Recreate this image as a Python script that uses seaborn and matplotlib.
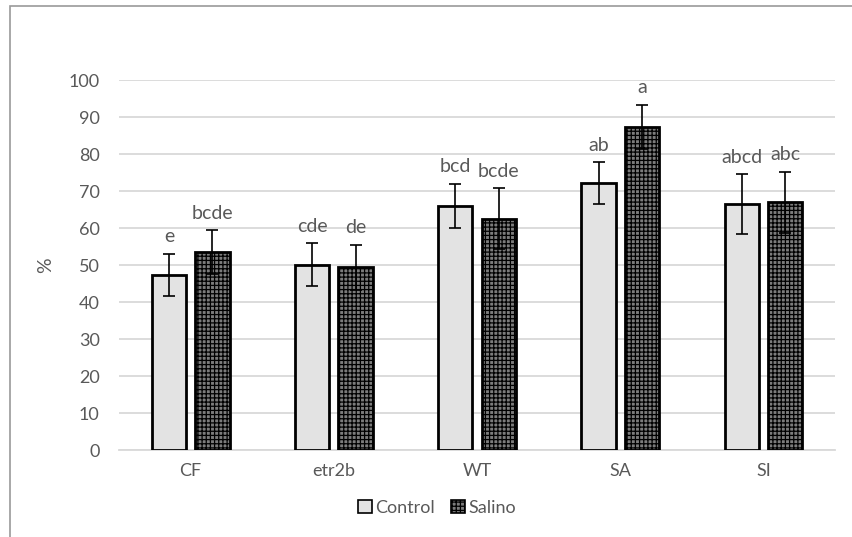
import numpy as np
import pandas as pd
import matplotlib
matplotlib.use("Agg")
import matplotlib.pyplot as plt
import seaborn as sns
from matplotlib.patches import Patch, Rectangle

categories = ["CF", "etr2b", "WT", "SA", "SI"]
treatments = ["Control", "Salino"]
control_vals = [47.3, 50.1, 66.0, 72.1, 66.5]
salino_vals = [53.5, 49.4, 62.5, 87.3, 66.9]
control_err = [5.8, 5.8, 6.0, 5.7, 8.1]
salino_err = [5.9, 6.1, 8.2, 6.0, 8.3]
control_letters = ["e", "cde", "bcd", "ab", "abcd"]
salino_letters = ["bcde", "de", "bcde", "a", "abc"]
y_ticks = [0, 10, 20, 30, 40, 50, 60, 70, 80, 90, 100]

df = pd.DataFrame({
    "Genotype": categories * 2,
    "Treatment": ["Control"] * 5 + ["Salino"] * 5,
    "Value": control_vals + salino_vals,
})

sns.set_theme(style="white")
plt.rcParams["font.family"] = ["Lato", "DejaVu Sans"]
plt.rcParams["hatch.linewidth"] = 0.9
text_color = "#595959"

fig = plt.figure(figsize=(8.52, 5.37), dpi=100)
ax = fig.add_axes([0.1397, 0.162, 0.8404, 0.689])

face = {"Control": "#e3e3e3", "Salino": "#7c7c7c"}
sns.barplot(data=df, x="Genotype", y="Value", hue="Treatment", order=categories,
            hue_order=treatments, palette=face, errorbar=None, width=0.607, gap=0.21,
            edgecolor="black", linewidth=2.0, legend=False, ax=ax, zorder=3)

patches = list(ax.patches)
ctrl_patches = patches[:5]
sal_patches = patches[5:10]
for p in sal_patches:
    p.set_hatch("++++")

def centers(ps):
    return [p.get_x() + p.get_width() / 2 for p in ps]

for ps, vals, errs, letters in [(ctrl_patches, control_vals, control_err, control_letters),
                                 (sal_patches, salino_vals, salino_err, salino_letters)]:
    xs = centers(ps)
    ax.errorbar(xs, vals, yerr=errs, fmt="none", ecolor="black", elinewidth=1.2,
                capsize=4.3, capthick=1.2, zorder=4)
    for x, v, e, l in zip(xs, vals, errs, letters):
        ax.annotate(l, (x, v + e), xytext=(0, 6), textcoords="offset points",
                    ha="center", va="bottom", fontsize=14, color=text_color,
                    annotation_clip=False)

ax.set_ylim(0, 100)
ax.set_xlim(-0.5, 4.5)
ax.set_yticks(y_ticks)
ax.yaxis.grid(True, color="#d9d9d9", linewidth=1.3, zorder=0)
ax.set_axisbelow(True)
for s in ["top", "right", "left"]:
    ax.spines[s].set_visible(False)
ax.spines["bottom"].set_color("#d9d9d9")
ax.spines["bottom"].set_linewidth(1.3)
ax.tick_params(axis="both", length=0, labelsize=13, labelcolor=text_color)
ax.tick_params(axis="y", pad=14)
ax.tick_params(axis="x", pad=9)
ax.set_xlabel("")
ax.set_ylabel("%", fontsize=14, color=text_color, labelpad=10)

handles = [Patch(facecolor=face["Control"], edgecolor="black", linewidth=1.2, label="Control"),
           Patch(facecolor=face["Salino"], edgecolor="black", linewidth=1.2, hatch="++++", label="Salino")]
leg = fig.legend(handles=handles, loc="center", bbox_to_anchor=(0.513, 0.054), ncol=2,
                 frameon=False, fontsize=13, handlelength=0.75, handleheight=0.75,
                 handletextpad=0.2, columnspacing=0.9)
for t in leg.get_texts():
    t.set_color(text_color)

fig.add_artist(Rectangle((9.5 / 852, -0.1), 1.2, 1.1 - 5.5 / 537, transform=fig.transFigure,
                         fill=False, edgecolor="#9a9a9a", linewidth=1.2))

fig.savefig("out.png", dpi=100)
